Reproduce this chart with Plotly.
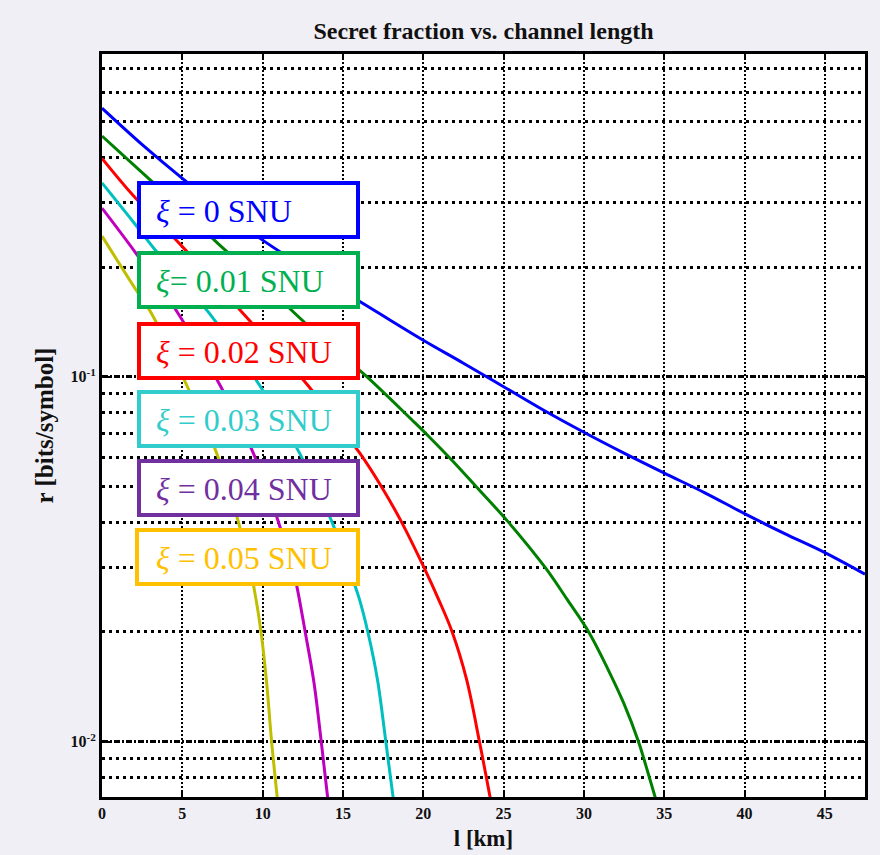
import math
import plotly.graph_objects as go

# ---------------- data ----------------
labels = ["ξ = 0 SNU", "ξ= 0.01 SNU", "ξ = 0.02 SNU", "ξ = 0.03 SNU", "ξ = 0.04 SNU", "ξ = 0.05 SNU"]

x_xi0 = [0, 2.5, 5, 7.5, 10, 12.5, 15, 17.5, 20, 22.5, 25, 27.5, 30, 32.5, 35, 37.5, 40, 42.5, 45, 47.5]
r_xi0 = [0.545, 0.433, 0.350, 0.287, 0.237, 0.201, 0.172, 0.147, 0.126, 0.109, 0.094, 0.081,
         0.0705, 0.0618, 0.0545, 0.0482, 0.0422, 0.0372, 0.0330, 0.0288]

x_xi1 = [0, 2.5, 5, 7.5, 10, 12.5, 15, 16.5, 19.3, 20.3, 21.8, 23.3, 25.3, 27.6, 29, 30.3, 31.5, 32.5, 33.4, 34.0, 34.5]
r_xi1 = [0.457, 0.363, 0.288, 0.226, 0.181, 0.1425, 0.114, 0.100, 0.0762, 0.069, 0.059, 0.050, 0.040,
         0.030, 0.0244, 0.020, 0.0158, 0.0127, 0.010, 0.0082, 0.0069]

x_xi2 = [0, 2, 5, 8.8, 12.8, 16.05, 17.4, 18.65, 20.05, 21.0, 21.8, 22.7, 23.5, 24.2]
r_xi2 = [0.397, 0.312, 0.2275, 0.149, 0.095, 0.0618, 0.050, 0.040, 0.030, 0.0243, 0.020, 0.0148, 0.010, 0.0069]

x_xi3 = [0, 2, 3.3, 6.7, 9.8, 12.3, 14.3, 15.35, 16.0, 16.55, 17.15, 17.67, 18.15]
r_xi3 = [0.340, 0.264, 0.223, 0.149, 0.095, 0.0618, 0.0402, 0.030, 0.0248, 0.020, 0.0148, 0.010, 0.0069]

x_xi4 = [0, 2.05, 4.75, 7.34, 9.42, 10.97, 11.85, 12.12, 12.65, 13.2, 13.65, 14.07]
r_xi4 = [0.290, 0.220, 0.149, 0.095, 0.0618, 0.0402, 0.030, 0.0268, 0.020, 0.0145, 0.010, 0.0069]

x_xi5 = [0, 2.05, 3.09, 5.27, 7.14, 8.48, 9.2, 9.45, 9.9, 10.25, 10.56, 10.93]
r_xi5 = [0.243, 0.175, 0.149, 0.095, 0.0618, 0.0402, 0.030, 0.0266, 0.020, 0.0145, 0.010, 0.0069]

x_tick_vals = [0, 5, 10, 15, 20, 25, 30, 35, 40, 45]
y_major_vals = [0.01, 0.1]
y_major_text = ["10<sup>-2</sup>", "10<sup>-1</sup>"]
y_minor_vals = [0.008, 0.009, 0.02, 0.03, 0.04, 0.05, 0.06, 0.07, 0.08, 0.09,
                0.2, 0.3, 0.4, 0.5, 0.6, 0.7]

# ---------------- styling ----------------
line_colors = ["#0000FF", "#008000", "#FF0000", "#00BFBF", "#BF00BF", "#BFBF00"]
box_colors = ["#0000FF", "#00B050", "#FF0000", "#33CCCC", "#7030A0", "#FFC000"]
SERIF = "Liberation Serif, Times New Roman, serif"

W, H = 880, 855
L, R, T, B = 102, 865, 54, 797  # plot area in pixels

fig = go.Figure()
series = [(x_xi0, r_xi0), (x_xi1, r_xi1), (x_xi2, r_xi2),
          (x_xi3, r_xi3), (x_xi4, r_xi4), (x_xi5, r_xi5)]
for (xs, ys), name, col in zip(series, labels, line_colors):
    fig.add_trace(go.Scatter(x=xs, y=ys, mode="lines", name=name, showlegend=False,
                             line=dict(color=col, width=3, shape="spline", smoothing=1.0),
                             cliponaxis=True))


def px2paper(px, py):
    return (px - L) / (R - L), (B - py) / (B - T)


shapes = []
annotations = []
box_tops = [181, 251, 322, 390, 459, 528]
box_h = 58
for i, (lab, col) in enumerate(zip(labels, box_colors)):
    x0p = 137 if i < 5 else 135
    x0, y0 = px2paper(x0p + 2, box_tops[i] + box_h - 2)
    x1, y1 = px2paper(358, box_tops[i] + 2)
    shapes.append(dict(type="rect", xref="paper", yref="paper", x0=x0, y0=y0, x1=x1, y1=y1,
                       line=dict(color=col, width=4), fillcolor="white", layer="above"))
    txt = lab.replace("ξ", "<i>ξ</i>")
    tx, ty = px2paper(154, box_tops[i] + box_h / 2 + 1)
    annotations.append(dict(text=txt, xref="paper", yref="paper", x=tx, y=ty,
                            xanchor="left", yanchor="middle", showarrow=False,
                            font=dict(family=SERIF, size=32, color=col)))

fig.update_layout(
    width=W, height=H,
    margin=dict(l=L, r=W - R, t=T, b=H - B, autoexpand=False),
    paper_bgcolor="#F1EFF6",
    plot_bgcolor="white",
    title=dict(text="<b>Secret fraction vs. channel length</b>", x=(L + R) / 2 / W, xanchor="center",
               y=1 - 31 / H, yanchor="middle",
               font=dict(family=SERIF, size=24, color="#111111")),
    shapes=shapes,
    annotations=annotations,
)

fig.update_xaxes(
    range=[0, 47.5], automargin=False,
    tickmode="array", tickvals=x_tick_vals,
    ticks="inside", ticklen=6, tickwidth=2, tickcolor="black",
    showline=True, linecolor="black", linewidth=3, mirror="ticks",
    showgrid=True, gridcolor="black", gridwidth=1.5, griddash="2px,2px",
    zeroline=False,
    tickfont=dict(family=SERIF, size=16, color="#111111", weight="bold"),
    title=dict(text="<b>l [km]</b>", font=dict(family=SERIF, size=23, color="#111111"), standoff=9),
)
fig.update_yaxes(
    type="log", automargin=False,
    range=[math.log10(0.00706), math.log10(0.767)],
    tickmode="array", tickvals=y_major_vals, ticktext=y_major_text,
    ticks="inside", ticklen=8, tickwidth=2, tickcolor="black",
    showline=True, linecolor="black", linewidth=3, mirror="ticks",
    showgrid=True, gridcolor="black", gridwidth=2.5, griddash="6px,2px,2px,2px",
    minor=dict(tickmode="array", tickvals=y_minor_vals, showgrid=True, gridcolor="black",
               gridwidth=2.5, griddash="3px,4px", ticks=""),
    zeroline=False,
    tickfont=dict(family=SERIF, size=16, color="#111111", weight="bold"),
    title=dict(text="<b>r [bits/symbol]</b>", font=dict(family=SERIF, size=25, color="#111111"), standoff=10),
)

fig.write_html("out.html")
